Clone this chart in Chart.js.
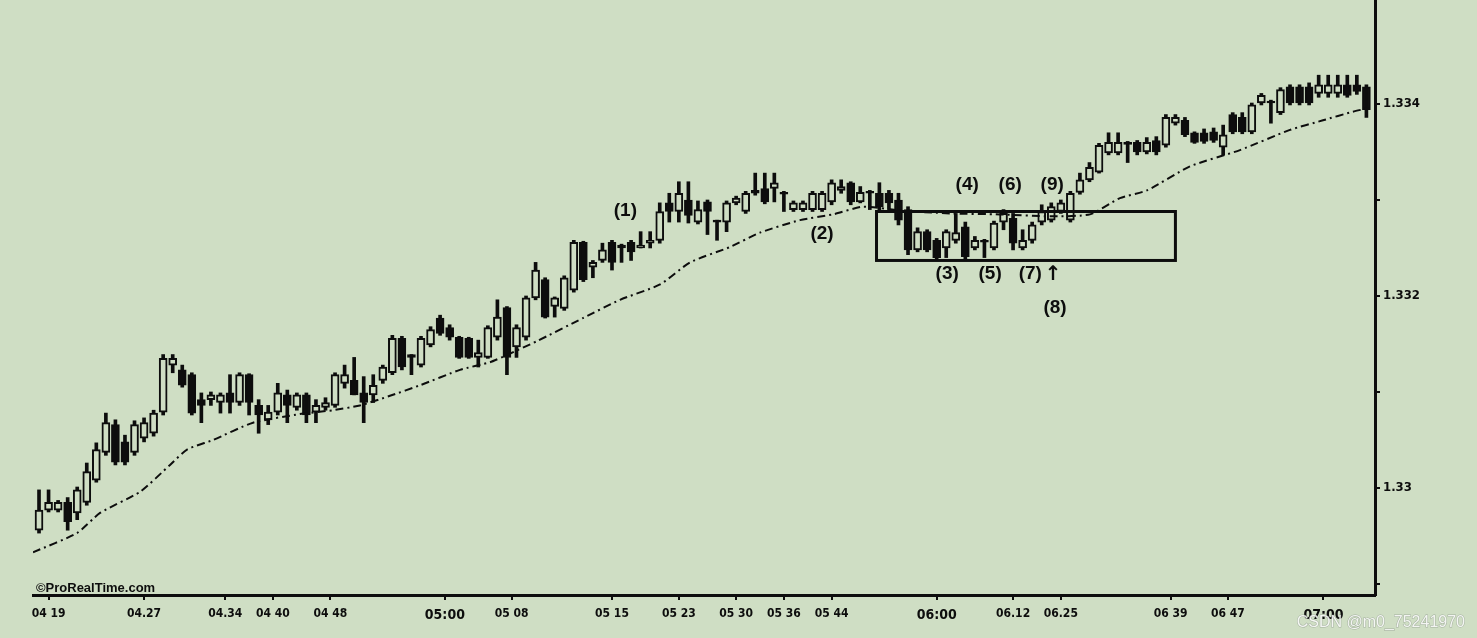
<!DOCTYPE html>
<html>
<head>
<meta charset="utf-8">
<title>Candles 04:19 - 07:00</title>
<script src="https://cdn.jsdelivr.net/npm/chart.js@4.4.0/dist/chart.umd.min.js"></script>
<style>
  html, body { margin: 0; padding: 0; background: #cfdec4; }
  #wrap { width: 1477px; height: 638px; }
</style>
</head>
<body>
<div id="wrap"><canvas id="candleChart" width="1477" height="638"></canvas></div>
<script>
// one candle per entry
const openPrices = [
    1.32956, 1.32977, 1.32977, 1.32985, 1.32974, 1.32985, 1.33008, 1.33037, 1.33066, 1.33048,
    1.33037, 1.33052, 1.33057, 1.33079, 1.33128, 1.33123, 1.33118, 1.33092, 1.33092, 1.33089,
    1.33099, 1.33089, 1.33118, 1.33086, 1.33071, 1.33079, 1.33097, 1.33084, 1.33097, 1.33079,
    1.33084, 1.33086, 1.33109, 1.33112, 1.33099, 1.33097, 1.33112, 1.33120, 1.33156, 1.33139,
    1.33128, 1.33149, 1.33177, 1.33167, 1.33157, 1.33156, 1.33136, 1.33136, 1.33157, 1.33188,
    1.33147, 1.33157, 1.33198, 1.33217, 1.33189, 1.33187, 1.33206, 1.33256, 1.33230, 1.33237,
    1.33256, 1.33253, 1.33256, 1.33250, 1.33255, 1.33258, 1.33297, 1.33288, 1.33300, 1.33277,
    1.33298, 1.33279, 1.33277, 1.33297, 1.33288, 1.33310, 1.33312, 1.33312, 1.33308, 1.33290,
    1.33290, 1.33290, 1.33290, 1.33298, 1.33310, 1.33318, 1.33298, 1.33309, 1.33307, 1.33307,
    1.33300, 1.33290, 1.33248, 1.33267, 1.33258, 1.33250, 1.33258, 1.33272, 1.33250, 1.33258,
    1.33250, 1.33277, 1.33281, 1.33250, 1.33258, 1.33277, 1.33279, 1.33288, 1.33279, 1.33308,
    1.33321, 1.33329, 1.33349, 1.33349, 1.33360, 1.33360, 1.33350, 1.33362, 1.33357, 1.33380,
    1.33383, 1.33370, 1.33370, 1.33371, 1.33355, 1.33389, 1.33386, 1.33371, 1.33401, 1.33403,
    1.33391, 1.33418, 1.33418, 1.33418, 1.33411, 1.33411, 1.33411, 1.33420, 1.33420, 1.33418
];
const highPrices = [
    1.32998, 1.32998, 1.32987, 1.32990, 1.33001, 1.33026, 1.33047, 1.33078, 1.33071, 1.33055,
    1.33070, 1.33073, 1.33081, 1.33139, 1.33139, 1.33128, 1.33120, 1.33099, 1.33100, 1.33099,
    1.33118, 1.33120, 1.33119, 1.33092, 1.33086, 1.33109, 1.33102, 1.33099, 1.33099, 1.33092,
    1.33094, 1.33120, 1.33128, 1.33136, 1.33116, 1.33118, 1.33128, 1.33159, 1.33158, 1.33139,
    1.33158, 1.33168, 1.33180, 1.33170, 1.33158, 1.33157, 1.33154, 1.33169, 1.33196, 1.33189,
    1.33170, 1.33200, 1.33235, 1.33219, 1.33199, 1.33221, 1.33258, 1.33257, 1.33237, 1.33255,
    1.33258, 1.33254, 1.33258, 1.33267, 1.33267, 1.33297, 1.33307, 1.33319, 1.33319, 1.33299,
    1.33300, 1.33279, 1.33299, 1.33304, 1.33309, 1.33328, 1.33328, 1.33328, 1.33309, 1.33299,
    1.33299, 1.33309, 1.33309, 1.33321, 1.33321, 1.33319, 1.33314, 1.33310, 1.33318, 1.33310,
    1.33307, 1.33293, 1.33271, 1.33269, 1.33260, 1.33269, 1.33286, 1.33277, 1.33262, 1.33259,
    1.33278, 1.33290, 1.33286, 1.33269, 1.33277, 1.33295, 1.33297, 1.33300, 1.33309, 1.33328,
    1.33339, 1.33359, 1.33370, 1.33370, 1.33361, 1.33362, 1.33365, 1.33366, 1.33389, 1.33389,
    1.33386, 1.33371, 1.33374, 1.33375, 1.33378, 1.33391, 1.33391, 1.33401, 1.33411, 1.33404,
    1.33417, 1.33420, 1.33420, 1.33422, 1.33430, 1.33430, 1.33430, 1.33430, 1.33430, 1.33420
];
const lowPrices = [
    1.32953, 1.32975, 1.32975, 1.32956, 1.32967, 1.32982, 1.33006, 1.33034, 1.33024, 1.33024,
    1.33034, 1.33048, 1.33054, 1.33076, 1.33120, 1.33105, 1.33076, 1.33068, 1.33086, 1.33078,
    1.33078, 1.33086, 1.33076, 1.33057, 1.33066, 1.33076, 1.33068, 1.33081, 1.33068, 1.33068,
    1.33081, 1.33084, 1.33104, 1.33097, 1.33068, 1.33089, 1.33109, 1.33118, 1.33123, 1.33118,
    1.33126, 1.33147, 1.33159, 1.33154, 1.33135, 1.33135, 1.33126, 1.33135, 1.33154, 1.33118,
    1.33136, 1.33154, 1.33196, 1.33177, 1.33178, 1.33185, 1.33204, 1.33215, 1.33219, 1.33235,
    1.33227, 1.33235, 1.33237, 1.33250, 1.33250, 1.33255, 1.33277, 1.33277, 1.33276, 1.33275,
    1.33264, 1.33258, 1.33267, 1.33295, 1.33286, 1.33305, 1.33296, 1.33298, 1.33288, 1.33288,
    1.33288, 1.33288, 1.33288, 1.33295, 1.33307, 1.33295, 1.33297, 1.33290, 1.33288, 1.33290,
    1.33274, 1.33243, 1.33246, 1.33246, 1.33237, 1.33240, 1.33255, 1.33237, 1.33248, 1.33240,
    1.33248, 1.33269, 1.33248, 1.33248, 1.33255, 1.33274, 1.33277, 1.33286, 1.33277, 1.33306,
    1.33319, 1.33328, 1.33347, 1.33347, 1.33339, 1.33347, 1.33348, 1.33347, 1.33355, 1.33378,
    1.33366, 1.33359, 1.33359, 1.33360, 1.33347, 1.33369, 1.33369, 1.33369, 1.33399, 1.33380,
    1.33389, 1.33399, 1.33399, 1.33399, 1.33407, 1.33407, 1.33407, 1.33407, 1.33410, 1.33386
];
const closePrices = [
    1.32977, 1.32985, 1.32985, 1.32965, 1.32998, 1.33017, 1.33040, 1.33068, 1.33027, 1.33027,
    1.33066, 1.33068, 1.33078, 1.33135, 1.33135, 1.33107, 1.33078, 1.33086, 1.33097, 1.33097,
    1.33089, 1.33118, 1.33089, 1.33076, 1.33079, 1.33099, 1.33086, 1.33097, 1.33076, 1.33086,
    1.33089, 1.33118, 1.33118, 1.33097, 1.33089, 1.33107, 1.33126, 1.33156, 1.33126, 1.33136,
    1.33156, 1.33165, 1.33161, 1.33157, 1.33136, 1.33136, 1.33141, 1.33167, 1.33178, 1.33136,
    1.33167, 1.33198, 1.33227, 1.33178, 1.33198, 1.33219, 1.33256, 1.33217, 1.33235, 1.33248,
    1.33235, 1.33250, 1.33246, 1.33253, 1.33258, 1.33288, 1.33288, 1.33307, 1.33284, 1.33290,
    1.33288, 1.33277, 1.33297, 1.33302, 1.33307, 1.33307, 1.33298, 1.33318, 1.33306, 1.33297,
    1.33297, 1.33307, 1.33307, 1.33318, 1.33314, 1.33298, 1.33308, 1.33307, 1.33293, 1.33297,
    1.33279, 1.33248, 1.33267, 1.33248, 1.33240, 1.33267, 1.33266, 1.33241, 1.33258, 1.33256,
    1.33276, 1.33286, 1.33255, 1.33258, 1.33274, 1.33288, 1.33293, 1.33297, 1.33307, 1.33321,
    1.33334, 1.33357, 1.33360, 1.33360, 1.33358, 1.33350, 1.33360, 1.33350, 1.33386, 1.33386,
    1.33368, 1.33360, 1.33361, 1.33362, 1.33368, 1.33371, 1.33371, 1.33399, 1.33409, 1.33401,
    1.33415, 1.33401, 1.33401, 1.33401, 1.33420, 1.33420, 1.33420, 1.33409, 1.33413, 1.33394
];

// moving average, read at a number of candle positions
const maIndex = [
    -0.63, 3.98, 6.39, 10.58, 13.72, 15.50, 18.22, 22.41, 27.33, 30.79,
    33.61, 36.75, 39.90, 44.08, 47.23, 49.11, 52.15, 56.96, 60.84, 65.03,
    68.17, 72.36, 75.50, 79.69, 83.14, 86.28, 90.16, 95.39, 100.63, 105.86,
    110.05, 113.19, 116.02, 120.52, 125.76, 130.99, 134.45, 137.59, 139.37
];
const maValues = [
    1.32933, 1.32953, 1.32974, 1.32996, 1.33024, 1.33040, 1.33050, 1.33068, 1.33077, 1.33081,
    1.33086, 1.33096, 1.33107, 1.33123, 1.33131, 1.33139, 1.33153, 1.33177, 1.33196, 1.33212,
    1.33235, 1.33251, 1.33266, 1.33279, 1.33285, 1.33293, 1.33289, 1.33286, 1.33285, 1.33283,
    1.33285, 1.33302, 1.33310, 1.33335, 1.33352, 1.33373, 1.33383, 1.33392, 1.33396
];

// time labels under the candles
const tickIndex = [1, 11, 19.5, 24.5, 30.5, 42.5, 49.5, 60, 67, 73, 78, 83, 94, 102, 107, 118.5, 124.5, 134.5];
const tickLabels = ['04 19', '04.27', '04.34', '04 40', '04 48', '05:00', '05 08', '05 15', '05 23',
    '05 30', '05 36', '05 44', '06:00', '06.12', '06.25', '06 39', '06 47', '07:00'];

const priceTicks = [1.329, 1.330, 1.331, 1.332, 1.333, 1.334];
const priceLabels = ['', '1.33', '', '1.332', '', '1.334'];

// numbered notes and the consolidation box
const noteLabels = ['(1)', '(2)', '(3)', '(4)', '(5)', '(6)', '(7)', '\u2191', '(8)', '(9)'];
const noteIndex = [61.4, 82.0, 95.1, 97.2, 99.6, 101.7, 103.8, 106.2, 106.4, 106.1];
const notePrice = [1.33289, 1.33265, 1.33223, 1.33316, 1.33223, 1.33316, 1.33223, 1.33222, 1.33188, 1.33316];
const boxIndex = [87.7, 119.0];
const boxPrice = [1.33237, 1.33288];

const INK = '#0d0d0d';
const PAPER = '#cfdec4';
const TICK_FONT = '"Liberation Sans Narrow", "DejaVu Sans Condensed", "Liberation Sans", sans-serif';

document.addEventListener('DOMContentLoaded', function() {
    initializeCandleChart();
});

function buildWicks() {
    return lowPrices.map((low, i) => ({ x: i, y: [low, highPrices[i]] }));
}

function buildBodies() {
    return openPrices.map((open, i) => ({ x: i, y: [open, closePrices[i]] }));
}

function bodyColors() {
    return openPrices.map((open, i) => closePrices[i] >= open ? PAPER : INK);
}

function buildAverage() {
    return maIndex.map((idx, i) => ({ x: idx, y: maValues[i] }));
}

const notesPlugin = {
    id: 'notes',
    afterDatasetsDraw(chart) {
        const ctx = chart.ctx;
        const xs = chart.scales.x;
        const ys = chart.scales.y;
        const area = chart.chartArea;

        ctx.save();
        const left = xs.getPixelForValue(boxIndex[0]);
        const right = xs.getPixelForValue(boxIndex[1]);
        const top = ys.getPixelForValue(boxPrice[1]);
        const bottom = ys.getPixelForValue(boxPrice[0]);
        ctx.strokeStyle = INK;
        ctx.lineWidth = 3;
        ctx.strokeRect(left, top, right - left, bottom - top);

        ctx.fillStyle = INK;
        ctx.textAlign = 'center';
        ctx.textBaseline = 'middle';
        noteLabels.forEach((label, i) => {
            ctx.font = label === '\u2191'
                ? 'bold 20px "DejaVu Sans", sans-serif'
                : 'bold 19px "Liberation Sans", Arial, sans-serif';
            ctx.fillText(label, xs.getPixelForValue(noteIndex[i]), ys.getPixelForValue(notePrice[i]));
        });

        ctx.font = 'bold 13px "Liberation Sans", Arial, sans-serif';
        ctx.textAlign = 'left';
        ctx.textBaseline = 'alphabetic';
        ctx.fillText('\u00A9ProRealTime.com', area.left + 3, area.bottom - 3);
        ctx.restore();
    },
    afterDraw(chart) {
        const ctx = chart.ctx;
        ctx.save();
        ctx.font = '16px "Liberation Sans", Arial, sans-serif';
        ctx.textAlign = 'right';
        ctx.textBaseline = 'alphabetic';
        ctx.lineWidth = 1;
        ctx.strokeStyle = 'rgba(120, 130, 120, 0.5)';
        ctx.strokeText('CSDN @m0_75241970', chart.width - 12, chart.height - 11);
        ctx.fillStyle = 'rgba(255, 255, 255, 0.85)';
        ctx.fillText('CSDN @m0_75241970', chart.width - 12, chart.height - 11);
        ctx.restore();
    }
};

function initializeCandleChart() {
    const canvas = document.getElementById('candleChart');
    const ctx = canvas.getContext('2d');

    window.candleChart = new Chart(ctx, {
        type: 'bar',
        data: {
            datasets: [{
                label: 'wick',
                data: buildWicks(),
                backgroundColor: INK,
                borderWidth: 0,
                barThickness: 3,
                grouped: false,
                order: 3
            }, {
                label: 'body',
                data: buildBodies(),
                backgroundColor: bodyColors(),
                borderColor: INK,
                borderWidth: 2,
                borderSkipped: false,
                barThickness: 8,
                grouped: false,
                order: 2
            }, {
                type: 'line',
                label: 'average',
                data: buildAverage(),
                borderColor: INK,
                borderWidth: 2,
                borderDash: [8, 4, 2, 4],
                pointRadius: 0,
                fill: false,
                tension: 0.2,
                order: 1
            }]
        },
        options: {
            responsive: false,
            animation: false,
            layout: {
                padding: { left: 33, top: 0, right: 0, bottom: 0 }
            },
            plugins: {
                legend: { display: false },
                tooltip: { enabled: false }
            },
            scales: {
                x: {
                    type: 'linear',
                    position: 'bottom',
                    min: -0.63,
                    max: 139.9,
                    offset: false,
                    grid: {
                        display: true,
                        offset: false,
                        drawOnChartArea: false,
                        drawTicks: true,
                        tickLength: 5,
                        color: INK,
                        lineWidth: 2
                    },
                    border: { display: true, color: INK, width: 3 },
                    afterBuildTicks: function(scale) {
                        scale.ticks = tickIndex.map(v => ({ value: v }));
                    },
                    afterFit: function(scale) {
                        scale.height = 43;
                        scale.paddingLeft = 0;
                        scale.paddingRight = 0;
                    },
                    ticks: {
                        autoSkip: false,
                        maxRotation: 0,
                        minRotation: 0,
                        padding: 7,
                        color: INK,
                        font: function(context) {
                            const label = tickLabels[context.index] || '';
                            const major = label.indexOf(':') !== -1;
                            return { family: TICK_FONT, weight: 'bold', size: major ? 14 : 12 };
                        },
                        callback: function(value, index) {
                            return tickLabels[index];
                        }
                    }
                },
                y: {
                    type: 'linear',
                    position: 'right',
                    min: 1.328885,
                    max: 1.3350833,
                    beginAtZero: false,
                    grid: {
                        display: true,
                        drawOnChartArea: false,
                        drawTicks: true,
                        tickLength: 5,
                        color: INK,
                        lineWidth: 2
                    },
                    border: { display: true, color: INK, width: 3 },
                    afterBuildTicks: function(scale) {
                        scale.ticks = priceTicks.map(v => ({ value: v }));
                    },
                    afterFit: function(scale) {
                        scale.width = 102;
                        scale.paddingTop = 0;
                        scale.paddingBottom = 0;
                    },
                    ticks: {
                        padding: 3,
                        color: INK,
                        font: { family: TICK_FONT, weight: 'bold', size: 13 },
                        callback: function(value, index) {
                            return priceLabels[index];
                        }
                    }
                }
            }
        },
        plugins: [notesPlugin]
    });
}
</script>
</body>
</html>
